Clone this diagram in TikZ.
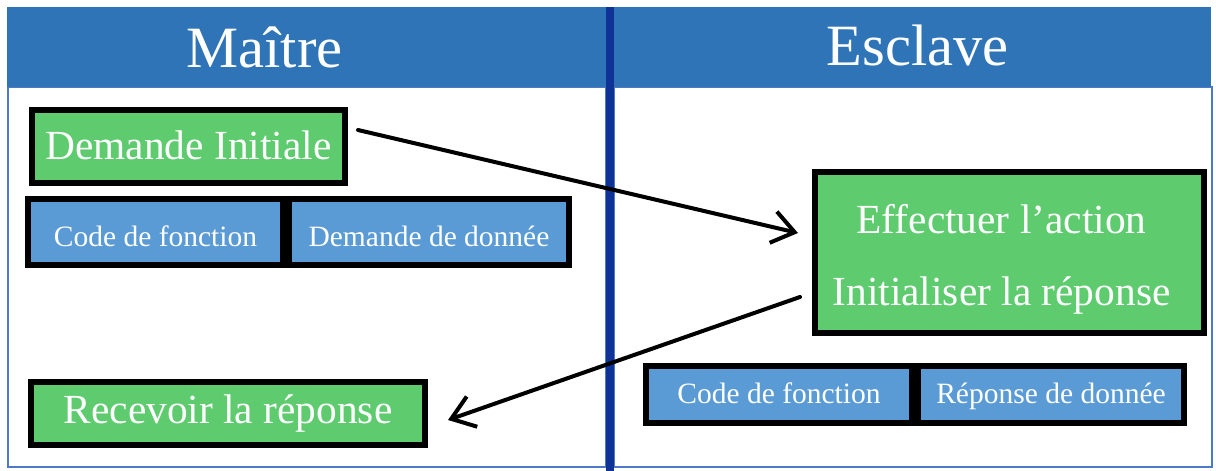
\documentclass[tikz,border=0pt]{standalone}
\usepackage{fontspec}
\setmainfont{Liberation Serif}
\usetikzlibrary{arrows.meta}
\definecolor{hdr}{RGB}{46,116,182}
\definecolor{navy}{RGB}{14,50,150}
\definecolor{grn}{RGB}{93,203,110}
\definecolor{cellblue}{RGB}{91,155,213}
\definecolor{frm}{RGB}{80,120,200}
\begin{document}
\begin{tikzpicture}[x=1pt,y=-1pt,
  gbox/.style={draw=black, line width=6pt, fill=grn, text=white, inner sep=0pt, outer sep=0pt, font=\fontsize{41.4}{48}\selectfont},
  bcell/.style={draw=black, line width=6pt, fill=cellblue, text=white, inner sep=0pt, outer sep=0pt, font=\fontsize{29.5}{34}\selectfont},
  hdrtext/.style={text=white, anchor=base, inner sep=0pt, font=\fontsize{58.5}{64}\selectfont},
  flow/.style={line width=4pt, line cap=round, line join=round, -{Straight Barb[length=22pt,width=32pt]}}
]
\useasboundingbox (0,0) rectangle (1216,471);
\fill[white] (0,0) rectangle (1216,471);
% column frames
\draw[frm, line width=2pt] (8,87) rectangle (606,467);
\draw[frm, line width=2pt] (614,87) rectangle (1212,467);
% header band and divider
\fill[hdr] (7,7) rectangle (1211,87);
\fill[navy] (606,7) rectangle (614,471);
\node[hdrtext] (m) at (264.5,67) {Maître};
\node[hdrtext] (e) at (917.5,65) {Esclave};
% master side
\node[gbox, minimum width=313pt, minimum height=73pt, text height=29pt, text depth=4pt] (di) at (188.5,146.5) {Demande Initiale};
\node[bcell, minimum width=255pt, minimum height=66pt, text height=28pt, text depth=0pt] (cf1) at (155.5,232) {Code de fonction};
\node[bcell, minimum width=280pt, minimum height=66pt, text height=28pt, text depth=0pt] (dd) at (429,232) {Demande de donnée};
\node[gbox, minimum width=394pt, minimum height=63pt, text height=29pt, text depth=10pt] (rec) at (228,413.5) {Recevoir la réponse};
% slave side
\node[gbox, minimum width=389pt, minimum height=161pt] (act) at (1009.5,252.5) {};
\node[text=white, font=\fontsize{41.4}{72}\selectfont, align=center, inner sep=0pt] (actt) at ([xshift=-8pt,yshift=-7pt]act.center) {Effectuer l’action\\Initialiser la réponse};
\node[bcell, minimum width=266pt, minimum height=57pt, text height=21pt, text depth=4pt] (cf2) at (779,394.5) {Code de fonction};
\node[bcell, minimum width=266pt, minimum height=57pt, text height=21pt, text depth=4pt] (rd) at (1051,394.5) {Réponse de donnée};
% arrows
\draw[flow] ([shift={(13,-16.5)}]di.east) -- ([shift={(-17,-19.5)}]act.west);
\draw[flow] ([shift={(-15,44.5)}]act.west) -- ([shift={(23,6.5)}]rec.east);
\end{tikzpicture}
\end{document}
